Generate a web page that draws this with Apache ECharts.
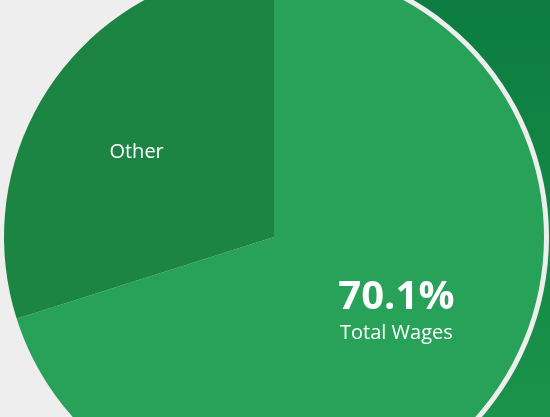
<!DOCTYPE html>
<html>
<head>
<meta charset="utf-8">
<script src="https://cdn.jsdelivr.net/npm/echarts@6/dist/echarts.min.js"></script>
<style>
  html, body { margin: 0; padding: 0; background: #eeeeee; }
  #chart { width: 550px; height: 417px; }
</style>
</head>
<body>
<div id="chart"></div>
<script>
// 工资构成
var categories = ['Total Wages', 'Other'];
var shares = [70.1, 29.9];
var sliceColors = ['#28a259', '#1c8543'];

var chart = echarts.init(document.getElementById('chart'), null, { renderer: 'canvas' });

var option = {
  backgroundColor: '#eeeeee',
  animation: false,
  graphic: [
    {
      type: 'rect',
      z: -10,
      shape: { x: 320, y: 0, width: 230, height: 417 },
      style: {
        fill: new echarts.graphic.LinearGradient(0, 0, 0, 1, [
          { offset: 0, color: '#0c7c40' },
          { offset: 1, color: '#1b934a' }
        ])
      }
    },
    {
      // 外圈浅色描边
      type: 'circle',
      z: -5,
      shape: { cx: 274, cy: 237, r: 275 },
      style: { fill: '#eeeeee' }
    }
  ],
  series: [{
    type: 'pie',
    center: [274, 237],
    radius: [0, 270],
    startAngle: 90,
    clockwise: true,
    silent: true,
    percentPrecision: 1,
    label: {
      show: true,
      position: 'inside',
      color: '#ffffff',
      fontFamily: 'Open Sans',
      fontSize: 20
    },
    labelLine: { show: false },
    data: categories.map(function (name, i) {
      var item = {
        name: name,
        value: shares[i],
        itemStyle: { color: sliceColors[i] }
      };
      if (i === 0) {
        item.label = {
          formatter: '{p|{d}%}\n{n|{b}}',
          offset: [11, -7],
          rich: {
            p: { fontSize: 40, fontWeight: 'bold', lineHeight: 44, color: '#fff', fontFamily: 'Open Sans' },
            n: { fontSize: 20, lineHeight: 28, color: '#fff', fontFamily: 'Open Sans' }
          }
        };
      } else {
        item.label = {
          formatter: '{b}',
          offset: [-26, -3]
        };
      }
      return item;
    })
  }]
};

chart.setOption(option);
</script>
</body>
</html>
